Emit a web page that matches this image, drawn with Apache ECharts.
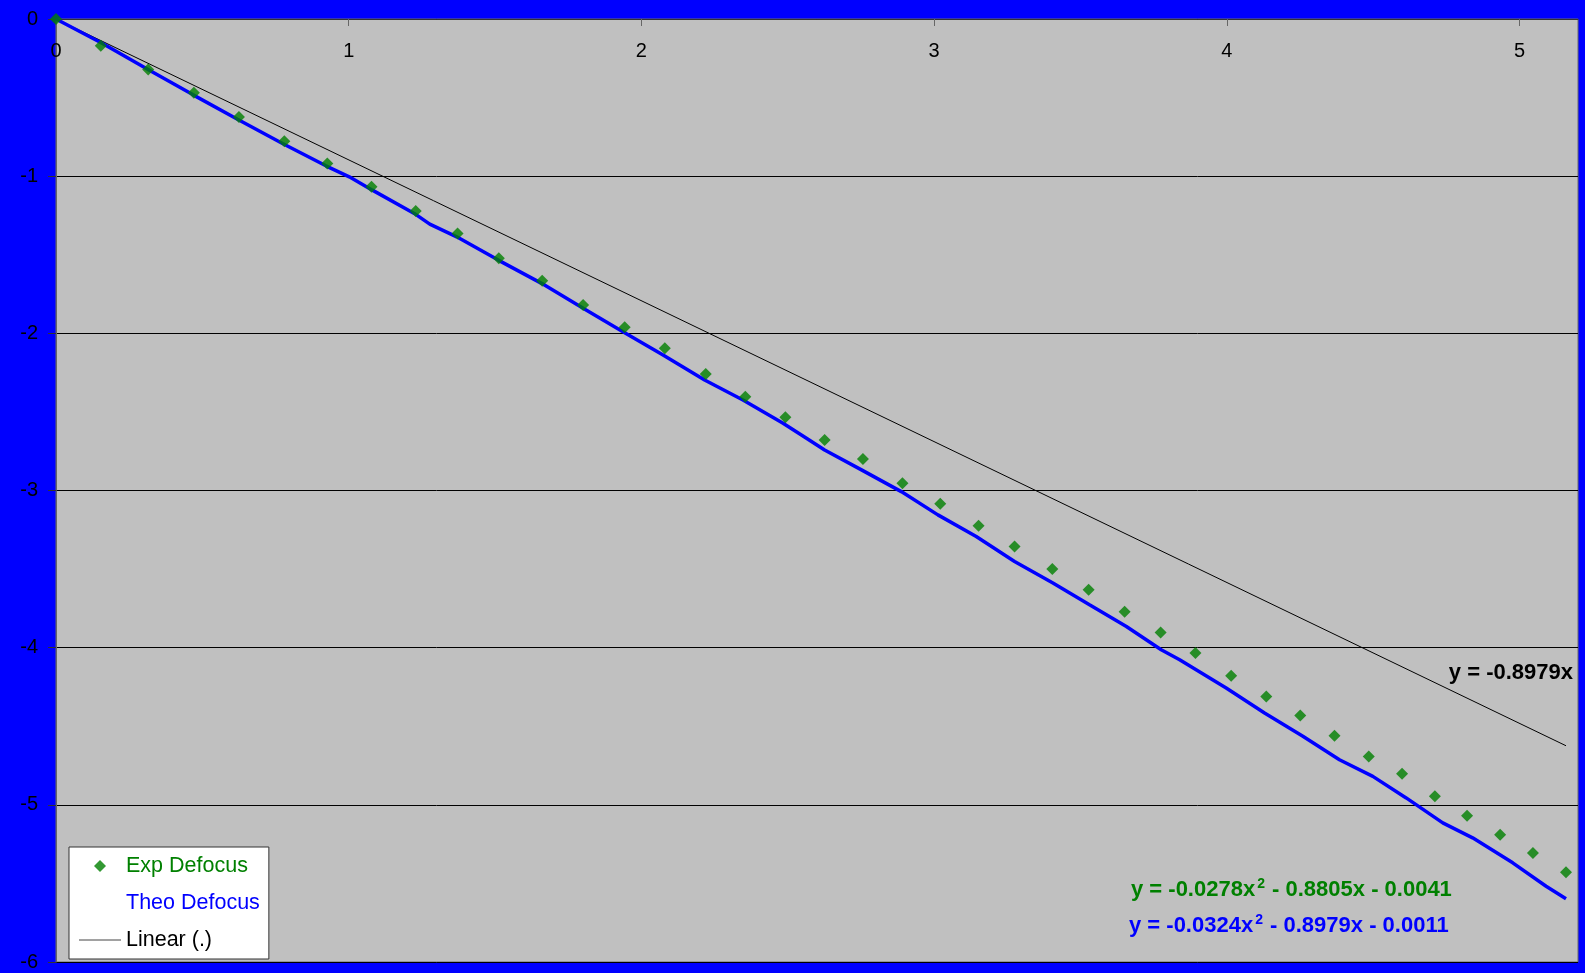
<!DOCTYPE html>
<html>
<head>
<meta charset="utf-8">
<script src="https://cdn.jsdelivr.net/npm/echarts@6/dist/echarts.min.js"></script>
<style>
html,body{margin:0;padding:0;background:#0000FF;}
#chart{width:1585px;height:973px;}
</style>
</head>
<body>
<div id="chart"></div>
<script>
// ---- data ----
var expX = [0,0.153,0.315,0.471,0.625,0.780,0.927,1.078,1.229,1.372,1.513,1.661,1.801,1.943,2.080,2.220,2.355,2.492,2.626,2.757,2.892,3.021,3.152,3.275,3.404,3.528,3.651,3.774,3.893,4.015,4.135,4.251,4.368,4.485,4.599,4.711,4.821,4.934,5.046,5.159];
var expY = [0,-0.170,-0.322,-0.470,-0.623,-0.778,-0.919,-1.068,-1.221,-1.364,-1.523,-1.666,-1.820,-1.962,-2.095,-2.259,-2.403,-2.534,-2.678,-2.799,-2.954,-3.085,-3.225,-3.357,-3.500,-3.632,-3.772,-3.903,-4.034,-4.179,-4.310,-4.431,-4.560,-4.692,-4.802,-4.946,-5.069,-5.190,-5.306,-5.429];

var theoX = [0,0.159,0.319,0.467,0.620,0.774,0.922,1.002,1.081,1.224,1.277,1.369,1.511,1.659,1.801,1.937,2.074,2.216,2.347,2.484,2.564,2.626,2.752,2.888,3.013,3.144,3.275,3.406,3.531,3.657,3.776,3.839,3.998,4.129,4.260,4.385,4.499,4.613,4.738,4.840,4.977,5.091,5.159];
var theoY = [0,-0.156,-0.326,-0.481,-0.638,-0.792,-0.934,-1.004,-1.089,-1.237,-1.305,-1.386,-1.534,-1.682,-1.841,-1.990,-2.138,-2.297,-2.424,-2.572,-2.667,-2.742,-2.869,-3.007,-3.155,-3.293,-3.452,-3.589,-3.727,-3.865,-4.013,-4.077,-4.257,-4.416,-4.564,-4.713,-4.819,-4.956,-5.115,-5.210,-5.369,-5.518,-5.598];

var linX = [0, 5.159];
var linY = [0, -4.624];

var xTicks = {min: 0, max: 5.2, interval: 1};
var yTicks = {min: -6, max: 0, interval: 1};

var seriesNames = ['Exp Defocus', 'Theo Defocus', 'Linear (.)'];
var eqLinear = 'y = -0.8979x';
var eqExp = ['y = -0.0278x', '2', ' - 0.8805x - 0.0041'];
var eqTheo = ['y = -0.0324x', '2', ' - 0.8979x - 0.0011'];

function zip(a, b) { return a.map(function (v, i) { return [v, b[i]]; }); }

var FONT = '"Liberation Sans", Arial, sans-serif';

var chart = echarts.init(document.getElementById('chart'));
var richFor = function (color) {
  return {
    n: {fontSize: 22, fontWeight: 'bold', fontFamily: FONT, fill: color, color: color, lineHeight: 26},
    s: {fontSize: 14, fontWeight: 'bold', fontFamily: FONT, fill: color, color: color, lineHeight: 26, verticalAlign: 'top', padding: [0, 1, 0, 2]}
  };
};

chart.setOption({
  backgroundColor: '#0000FF',
  animation: false,
  grid: {
    left: 56, top: 19, right: 7, bottom: 11,
    show: true, backgroundColor: '#C0C0C0', borderColor: '#6a6a6a', borderWidth: 1
  },
  xAxis: {
    type: 'value', position: 'top',
    min: xTicks.min, max: xTicks.max, interval: xTicks.interval,
    axisLine: {show: true, onZero: false, lineStyle: {color: '#333', width: 1}},
    axisTick: {show: true, inside: true, length: 7, lineStyle: {color: '#666'}},
    axisLabel: {inside: true, margin: 22, fontSize: 20, color: '#000', fontFamily: FONT, showMaxLabel: false},
    splitLine: {show: false}
  },
  yAxis: {
    type: 'value',
    min: yTicks.min, max: yTicks.max, interval: yTicks.interval,
    axisLine: {show: true, onZero: false, lineStyle: {color: '#666', width: 1}},
    axisTick: {show: true, inside: false, length: 8, lineStyle: {color: '#333'}},
    axisLabel: {margin: 18, fontSize: 20, color: '#000', fontFamily: FONT},
    splitLine: {show: true, lineStyle: {color: '#000', width: 1}}
  },
  legend: {
    orient: 'vertical', left: 69, top: 847,
    backgroundColor: '#FFFFFF', borderColor: '#333', borderWidth: 1,
    padding: [8, 9, 8, 9],
    itemWidth: 42, itemHeight: 12, itemGap: 15,
    symbolKeepAspect: true,
    textStyle: {fontSize: 21.5, fontFamily: FONT},
    data: [
      {name: seriesNames[0], icon: 'path://M6,0L12,6L6,12L0,6Z', textStyle: {color: '#008000'}},
      {name: seriesNames[1], textStyle: {color: '#0000FF'}, itemStyle: {opacity: 0}, lineStyle: {opacity: 0}},
      {name: seriesNames[2], textStyle: {color: '#000'}, itemStyle: {opacity: 0}, lineStyle: {color: '#444', width: 1}}
    ]
  },
  series: [
    {
      name: seriesNames[2], type: 'line', data: zip(linX, linY),
      symbol: 'none', lineStyle: {color: '#000', width: 1}, itemStyle: {color: '#000'}, z: 2
    },
    {
      name: seriesNames[1], type: 'line', data: zip(theoX, theoY),
      symbol: 'none', lineStyle: {color: '#0000FF', width: 3.5}, itemStyle: {color: '#0000FF'}, z: 3
    },
    {
      name: seriesNames[0], type: 'scatter', data: zip(expX, expY),
      symbol: 'diamond', symbolSize: 12, clip: false,
      itemStyle: {color: '#008000'}, z: 4
    }
  ],
  graphic: [
    {type: 'text', right: 12, top: 662, z: 10,
     style: {text: eqLinear, font: 'bold 22px ' + FONT, fill: '#000'}},
    {type: 'text', left: 1131, top: 877, z: 10,
     style: {text: '{n|' + eqExp[0] + '}{s|' + eqExp[1] + '}{n|' + eqExp[2] + '}', rich: richFor('#008000')}},
    {type: 'text', left: 1129, top: 913, z: 10,
     style: {text: '{n|' + eqTheo[0] + '}{s|' + eqTheo[1] + '}{n|' + eqTheo[2] + '}', rich: richFor('#0000FF')}}
  ]
});
</script>
</body>
</html>
